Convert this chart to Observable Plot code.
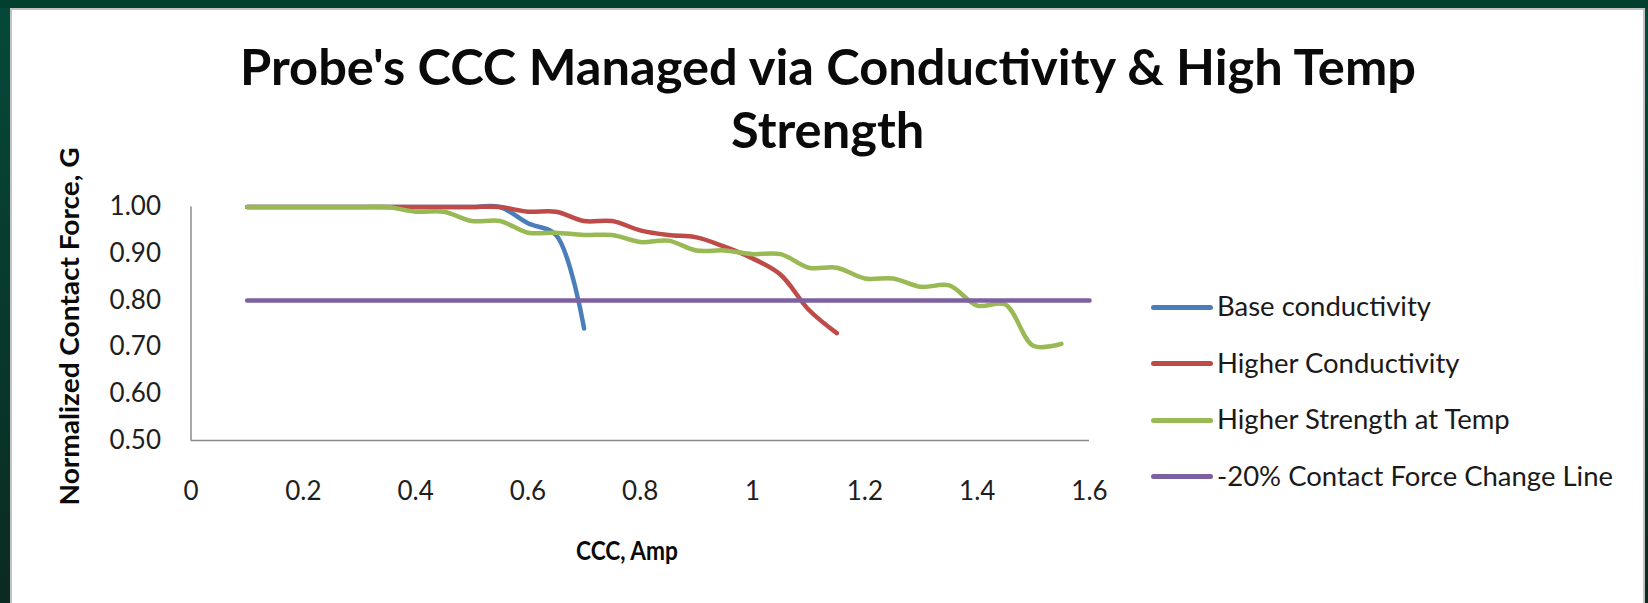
<!DOCTYPE html>
<html>
<head>
<meta charset="utf-8">
<script src="https://cdn.jsdelivr.net/npm/d3@7"></script>
<script src="https://cdn.jsdelivr.net/npm/@observablehq/plot@0.6"></script>
<style>
  html, body { margin: 0; padding: 0; }
  body {
    width: 1648px; height: 603px; overflow: hidden; position: relative;
    background: linear-gradient(to bottom, #05493a, #0b2a21);
    font-family: Lato, "Noto Sans", sans-serif;
  }
  #topband { position: absolute; left: 0; top: 0; width: 1648px; height: 8px; background: #013f2f; }
  #panel {
    position: absolute; left: 10px; top: 8px; width: 1631px; height: 600px;
    background: #ffffff; border: 2px solid #c2c2c2; border-bottom: none;
  }
  #chart { position: absolute; left: 0; top: 0; }
  .t { position: absolute; white-space: nowrap; line-height: 1; color: #0a0a0a; transform-origin: 0 0; }
  .title { font-weight: 700; font-size: 49px; }
  .axt { font-weight: 700; font-size: 27px; }
  .leg { font-size: 26px; color: #1a1a1a; }
  .sw { position: absolute; height: 5px; border-radius: 3px; }
</style>
</head>
<body>
<div id="topband"></div>
<div id="panel"></div>
<div id="chart"></div>
<div id="labels"></div>
<script>
// ---- data ----
const xTicks = [0, 0.2, 0.4, 0.6, 0.8, 1, 1.2, 1.4, 1.6];
const yTicks = [0.5, 0.6, 0.7, 0.8, 0.9, 1.0];

const seriesNames = ["Base conductivity", "Higher Conductivity", "Higher Strength at Temp", "-20% Contact Force Change Line"];
const seriesColors = ["#4a7ebb", "#be4b48", "#98b954", "#7d60a0"];

const baseX = [0.1, 0.15, 0.2, 0.25, 0.3, 0.35, 0.4, 0.45, 0.5, 0.55, 0.6, 0.65, 0.7];
const baseY = [1, 1, 1, 1, 1, 1, 1, 1, 1, 1, 0.965, 0.94, 0.74];

const condX = [0.1, 0.15, 0.2, 0.25, 0.3, 0.35, 0.4, 0.45, 0.5, 0.55, 0.6, 0.65, 0.7, 0.75, 0.8, 0.85, 0.9, 0.95, 1.0, 1.05, 1.1, 1.15];
const condY = [1, 1, 1, 1, 1, 1, 1, 1, 1, 1, 0.99, 0.99, 0.97, 0.97, 0.95, 0.94, 0.935, 0.915, 0.89, 0.855, 0.78, 0.73];

const strX = [0.1, 0.15, 0.2, 0.25, 0.3, 0.35, 0.4, 0.45, 0.5, 0.55, 0.6, 0.65, 0.7, 0.75, 0.8, 0.85, 0.9, 0.95, 1.0, 1.05, 1.1, 1.15, 1.2, 1.25, 1.3, 1.35, 1.4, 1.45, 1.5, 1.55];
const strY = [1, 1, 1, 1, 1, 1, 0.99, 0.99, 0.97, 0.97, 0.945, 0.945, 0.94, 0.94, 0.925, 0.928, 0.907, 0.907, 0.899, 0.899, 0.87, 0.87, 0.847, 0.847, 0.829, 0.832, 0.789, 0.791, 0.703, 0.707];

const limX = [0.1, 1.6];
const limY = [0.8, 0.8];

const titleLines = ["Probe's CCC Managed via Conductivity & High Temp", "Strength"];
const xLabel = "CCC, Amp";
const yLabel = "Normalized Contact Force, G";

// ---- build ----
const rows = (xs, ys) => xs.map((x, i) => ({x, y: ys[i]}));
const series = [rows(baseX, baseY), rows(condX, condY), rows(strX, strY), rows(limX, limY)];

const W = 1648, H = 603;
const plot = Plot.plot({
  width: W, height: H,
  marginLeft: 190.5, marginRight: W - 1089, marginTop: 206.5, marginBottom: H - 440,
  style: {background: "transparent", fontFamily: "Lato, 'Noto Sans', sans-serif", fontSize: "26px", color: "#1e1e1e", overflow: "visible"},
  x: {domain: [0, 1.6], ticks: xTicks, tickSize: 0, tickPadding: 41, tickFormat: d => String(d), label: null},
  y: {domain: [0.5, 1.0], ticks: yTicks, tickSize: 0, tickPadding: 30, tickFormat: d => d.toFixed(2), label: null},
  marks: [
    Plot.ruleX([0], {stroke: "#8a8a8a", strokeWidth: 1.5}),
    Plot.ruleY([0.5], {stroke: "#8a8a8a", strokeWidth: 1.5}),
    ...series.map((d, i) => Plot.line(d, {
      x: "x", y: "y", stroke: seriesColors[i], strokeWidth: 4.5,
      curve: i === 3 ? "linear" : "catmull-rom", strokeLinecap: "round", strokeLinejoin: "round"
    }))
  ]
});
document.getElementById("chart").appendChild(plot);

// ---- text (HTML) ----
const L = document.getElementById("labels");
function addText(txt, cls, left, top) {
  const s = document.createElement("span");
  s.className = "t " + cls;
  s.textContent = txt;
  s.style.left = left + "px";
  s.style.top = top + "px";
  L.appendChild(s);
  return s;
}
// title: fit line 1 to measured width, same scale for line 2, centered
const t1 = addText(titleLines[0], "title", 0, 0);
const t2 = addText(titleLines[1], "title", 0, 0);
const w1 = t1.getBoundingClientRect().width, w2 = t2.getBoundingClientRect().width;
const ts = 1176 / w1;
const cx = 828;
t1.style.left = (cx - w1 * ts / 2) + "px"; t1.style.top = "42px"; t1.style.transform = `scaleX(${ts})`;
t2.style.left = (cx - w2 * ts / 2) + "px"; t2.style.top = "105px"; t2.style.transform = `scaleX(${ts})`;

// x axis title
const xl = addText(xLabel, "axt", 0, 0);
const xw = xl.getBoundingClientRect().width;
const xs = 102 / xw;
xl.style.left = (627 - xw * xs / 2) + "px"; xl.style.top = "536px"; xl.style.transform = `scaleX(${xs})`;

// y axis title (rotated)
const yl = addText(yLabel, "axt", 0, 0);
const yw = yl.getBoundingClientRect().width;
const ysc = 358 / yw;
yl.style.transformOrigin = "50% 50%";
yl.style.left = (68 - yw / 2) + "px";
yl.style.top = (326 - 13.5) + "px";
yl.style.transform = `rotate(-90deg) scaleX(${ysc})`;

// legend
const legRows = [307, 363.5, 420, 476.5];
const legSpans = seriesNames.map((n, i) => {
  const sw = document.createElement("div");
  sw.className = "sw";
  sw.style.background = seriesColors[i];
  sw.style.left = "1151px"; sw.style.width = "62px"; sw.style.top = (legRows[i] - 2.5) + "px";
  L.appendChild(sw);
  return addText(n, "leg", 1217, legRows[i] - 14);
});
const lw = legSpans[3].getBoundingClientRect().width;
const ls = 396 / lw;
legSpans.forEach(s => s.style.transform = `scaleX(${ls})`);
</script>
</body>
</html>
